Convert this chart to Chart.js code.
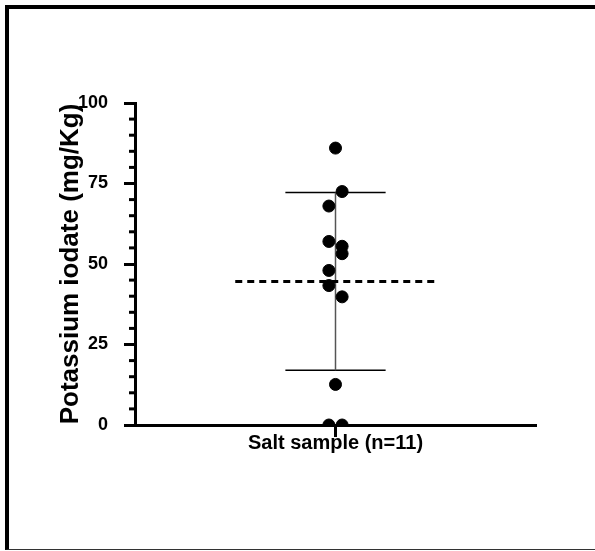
<!DOCTYPE html>
<html lang="en">
<head>
    <meta charset="UTF-8">
    <title>Potassium iodate in salt samples</title>
    <script src="https://cdn.jsdelivr.net/npm/chart.js"></script>
    <style>
        body {
            margin: 0;
            background: #fff;
        }

        #wrap {
            position: relative;
            width: 595px;
            height: 551px;
            overflow: hidden;
        }

        /* outer frame of the figure */
        #frame {
            position: absolute;
            left: 5px;
            top: 5px;
            width: 600px;
            height: 545px;
            box-sizing: border-box;
            border-left: 4px solid #000;
            border-top: 4px solid #000;
            border-bottom: 1.5px solid #333;
            pointer-events: none;
        }

        canvas {
            position: absolute;
            left: 0;
            top: 0;
        }
    </style>
</head>

<body>
    <div id="wrap">
        <canvas id="chart" width="595" height="551"></canvas>
        <div id="frame"></div>
    </div>

    <script>
        // data
        const category = 'Salt sample (n=11)';
        const yTitle = 'Potassium iodate (mg/Kg)';
        const values = [86, 72.5, 68, 57, 55.5, 53.2, 48, 43.3, 39.8, 12.6, 0, 0];
        const jitter = [0, 0.033, -0.033, -0.033, 0.033, 0.033, -0.033, -0.033, 0.033, 0, -0.033, 0.033];
        const mean = 44.6;
        const sd = 27.6;
        const yTicks = [0, 25, 50, 75, 100];
        const yMinorStep = 5;

        const font = '"Liberation Sans", Arial, sans-serif';

        // short minor ticks on the y axis
        const minorTicks = {
            id: 'minorTicks',
            afterDraw(chart) {
                const y = chart.scales.y;
                const ctx = chart.ctx;
                const x0 = y.right;
                ctx.save();
                ctx.strokeStyle = '#000';
                ctx.lineWidth = 3;
                for (let v = y.min; v <= y.max; v += yMinorStep) {
                    if (yTicks.includes(v)) continue;
                    const py = y.getPixelForValue(v);
                    ctx.beginPath();
                    ctx.moveTo(x0 - 6, py);
                    ctx.lineTo(x0, py);
                    ctx.stroke();
                }
                ctx.restore();
            }
        };

        const points = values.map((v, i) => ({ x: jitter[i], y: v }));

        new Chart(document.getElementById('chart'), {
            type: 'scatter',
            data: {
                datasets: [
                    {
                        data: points,
                        backgroundColor: '#000',
                        borderColor: '#000',
                        pointRadius: 6,
                        order: 0
                    },
                    {
                        // mean
                        data: [{ x: -0.5, y: mean }, { x: 0.5, y: mean }],
                        showLine: true,
                        borderColor: '#000',
                        borderWidth: 3,
                        borderDash: [7, 5],
                        pointRadius: 0,
                        order: 1
                    },
                    {
                        // SD whisker
                        data: [{ x: 0, y: mean - sd }, { x: 0, y: mean + sd }],
                        showLine: true,
                        borderColor: '#555',
                        borderWidth: 1.5,
                        pointRadius: 0,
                        order: 2
                    },
                    {
                        data: [{ x: -0.25, y: mean + sd }, { x: 0.25, y: mean + sd }],
                        showLine: true,
                        borderColor: '#000',
                        borderWidth: 1.5,
                        pointRadius: 0,
                        order: 2
                    },
                    {
                        data: [{ x: -0.25, y: mean - sd }, { x: 0.25, y: mean - sd }],
                        showLine: true,
                        borderColor: '#000',
                        borderWidth: 1.5,
                        pointRadius: 0,
                        order: 2
                    }
                ]
            },
            options: {
                responsive: false,
                animation: false,
                devicePixelRatio: 1,
                layout: {
                    padding: { left: 51, top: 103, right: 59, bottom: 0 }
                },
                plugins: {
                    legend: { display: false },
                    tooltip: { enabled: false }
                },
                scales: {
                    x: {
                        type: 'linear',
                        min: -1,
                        max: 1,
                        afterBuildTicks: (scale) => { scale.ticks = [{ value: 0 }]; },
                        afterFit: (scale) => { scale.height = 126; },
                        ticks: {
                            callback: () => category,
                            color: '#000',
                            padding: -6,
                            font: { family: font, size: 20, weight: 'bold' }
                        },
                        grid: {
                            drawOnChartArea: false,
                            tickLength: 12,
                            tickWidth: 3,
                            tickColor: '#000'
                        },
                        border: { display: true, width: 3, color: '#000' }
                    },
                    y: {
                        min: 0,
                        max: 100,
                        afterBuildTicks: (scale) => { scale.ticks = yTicks.map(v => ({ value: v })); },
                        afterFit: (scale) => { scale.width = 84; },
                        ticks: {
                            color: '#000',
                            padding: 16,
                            font: { family: font, size: 18, weight: 'bold' }
                        },
                        grid: {
                            drawOnChartArea: false,
                            tickLength: 11,
                            tickWidth: 3,
                            tickColor: '#000'
                        },
                        border: { display: true, width: 3, color: '#000' },
                        title: {
                            display: true,
                            text: yTitle,
                            color: '#000',
                            font: { family: font, size: 26, weight: 'bold' }
                        }
                    }
                }
            },
            plugins: [minorTicks]
        });
    </script>
</body>
</html>
